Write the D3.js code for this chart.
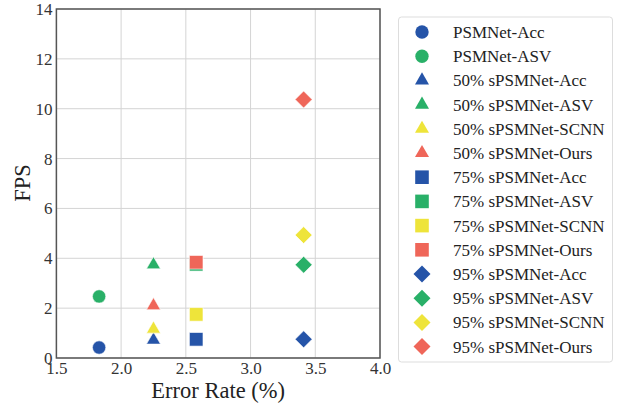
<!DOCTYPE html>
<html><head><meta charset="utf-8">
<script src="https://cdn.jsdelivr.net/npm/d3@7"></script>
<style>body{margin:0;background:#fff;} svg{display:block;font-family:"Liberation Serif","Times New Roman",serif;}</style>
</head><body><svg id="c" width="623" height="408"></svg>
<script>
const seriesNames = ["PSMNet-Acc","PSMNet-ASV","50% sPSMNet-Acc","50% sPSMNet-ASV","50% sPSMNet-SCNN","50% sPSMNet-Ours","75% sPSMNet-Acc","75% sPSMNet-ASV","75% sPSMNet-SCNN","75% sPSMNet-Ours","95% sPSMNet-Acc","95% sPSMNet-ASV","95% sPSMNet-SCNN","95% sPSMNet-Ours"];
const errorRate = [1.83,1.83,2.25,2.25,2.25,2.25,2.58,2.58,2.58,2.58,3.41,3.41,3.41,3.41];
const fps = [0.42,2.47,0.72,3.74,1.16,2.10,0.75,3.76,1.75,3.84,0.75,3.74,4.93,10.37];
const shapes = ["circle","circle","triangle","triangle","triangle","triangle","square","square","square","square","diamond","diamond","diamond","diamond"];
const colorKeys = ["Acc","ASV","Acc","ASV","SCNN","Ours","Acc","ASV","SCNN","Ours","Acc","ASV","SCNN","Ours"];
const xTicks = [1.5,2.0,2.5,3.0,3.5,4.0];
const yTicks = [0,2,4,6,8,10,12,14];

const palette = {Acc:"#2554a8", ASV:"#29b068", SCNN:"#eee43a", Ours:"#ef6659"};
const symType = {circle:d3.symbolCircle, triangle:d3.symbolTriangle, square:d3.symbolSquare, diamond:d3.symbolSquare};
const symSize = {circle:140, triangle:85, square:185, diamond:145};
const symRot = {circle:0, triangle:0, square:0, diamond:45};

const svg = d3.select("#c");
const L=56.4, R=380, T=9, B=358;
const x = d3.scaleLinear().domain([1.5,4.0]).range([L,R]);
const y = d3.scaleLinear().domain([0,14]).range([B,T]);

// grid
svg.append("g").selectAll("line").data(xTicks).join("line")
  .attr("x1",d=>x(d)).attr("x2",d=>x(d)).attr("y1",T).attr("y2",B)
  .attr("stroke","#d4d4d4").attr("stroke-width",1);
svg.append("g").selectAll("line").data(yTicks).join("line")
  .attr("y1",d=>y(d)).attr("y2",d=>y(d)).attr("x1",L).attr("x2",R)
  .attr("stroke","#d4d4d4").attr("stroke-width",1);

// axes
const xAxis = svg.append("g").attr("transform",`translate(0,${B})`)
  .call(d3.axisBottom(x).tickValues(xTicks).tickFormat(d3.format(".1f")).tickSize(0).tickPadding(3));
const yAxis = svg.append("g").attr("transform",`translate(${L},0)`)
  .call(d3.axisLeft(y).tickValues(yTicks).tickFormat(d3.format("d")).tickSize(0).tickPadding(4));
[xAxis,yAxis].forEach(a=>{a.select(".domain").remove(); a.selectAll("text").attr("font-family","Liberation Serif").attr("font-size",17).attr("fill","#333");});
xAxis.selectAll("text").attr("dy","0.75em");

svg.append("rect").attr("x",L).attr("y",T).attr("width",R-L).attr("height",B-T)
  .attr("fill","none").attr("stroke","#555").attr("stroke-width",1.5);

// points
svg.append("g").selectAll("path").data(seriesNames).join("path")
  .attr("transform",(d,i)=>`translate(${x(errorRate[i])},${y(fps[i])}) rotate(${symRot[shapes[i]]})`)
  .attr("d",(d,i)=>d3.symbol().type(symType[shapes[i]]).size(symSize[shapes[i]])())
  .attr("fill",(d,i)=>palette[colorKeys[i]])
  .attr("stroke","#fff").attr("stroke-width",0.6);

// axis titles
svg.append("text").attr("x",(L+R)/2).attr("y",398).attr("text-anchor","middle")
  .attr("font-size",22.5).attr("fill","#222").text("Error Rate (%)");
svg.append("text").attr("transform","translate(30,183) rotate(-90)").attr("text-anchor","middle")
  .attr("font-size",22.5).attr("fill","#222").text("FPS");

// legend
const lg = svg.append("g");
lg.append("rect").attr("x",398.5).attr("y",17).attr("width",214).attr("height",345).attr("rx",3)
  .attr("fill","#fff").attr("stroke","#ddd").attr("stroke-width",1);
const row = lg.selectAll("g.row").data(seriesNames).join("g").attr("class","row")
  .attr("transform",(d,i)=>`translate(0,${32+i*24.2})`);
row.append("path").attr("transform",(d,i)=>`translate(422,0) rotate(${symRot[shapes[i]]})`)
  .attr("d",(d,i)=>d3.symbol().type(symType[shapes[i]]).size(symSize[shapes[i]])())
  .attr("fill",(d,i)=>palette[colorKeys[i]]);
row.append("text").attr("x",453).attr("y",0).attr("dy","0.35em")
  .attr("font-size",17).attr("fill","#222").text(d=>d);
</script></body></html>
